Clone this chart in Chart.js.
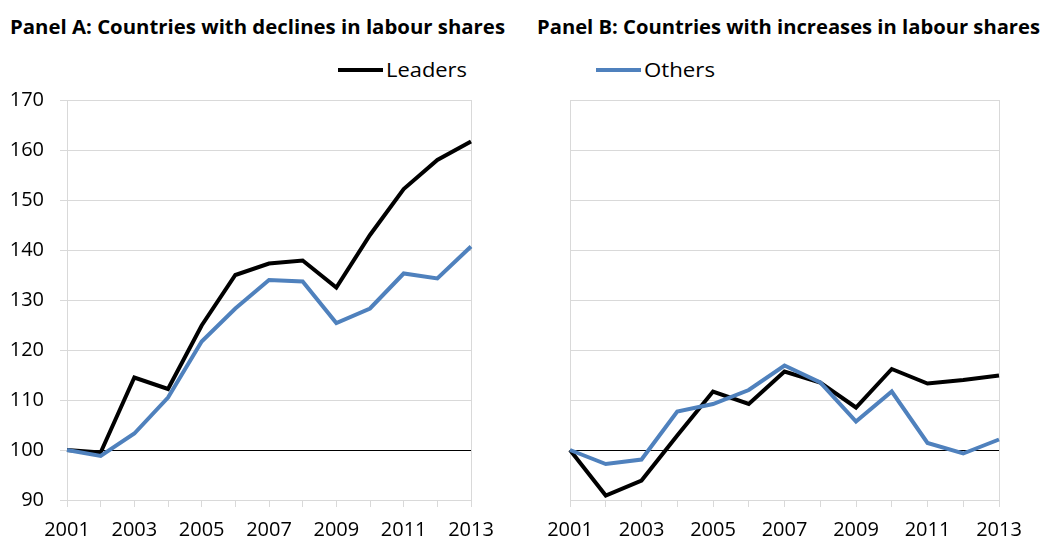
<!DOCTYPE html>
<html>
<head>
<meta charset="utf-8">
<script src="https://cdn.jsdelivr.net/npm/chart.js@4"></script>
<style>
  body { margin: 0; background: #fff; width: 1047px; height: 542px; overflow: hidden; position: relative; }
  .title { position: absolute; top: 14px; font-family: "Open Sans", sans-serif; font-weight: bold; font-size: 20px; line-height: 26px; color: #000; white-space: nowrap; transform-origin: 0 50%; }
  .leg { position: absolute; top: 57px; font-family: "Open Sans", sans-serif; font-size: 20px; line-height: 26px; color: #000; white-space: nowrap; display: flex; align-items: center; }
  .leg span.line { display: inline-block; width: 45px; height: 4px; margin-right: 3px; }
  .box { position: absolute; top: 72px; height: 470px; }
</style>
</head>
<body>
<div class="title" id="titleA" style="left:10px" data-w="495">Panel A: Countries with declines in labour shares</div>
<div class="title" id="titleB" style="left:537px" data-w="503">Panel B: Countries with increases in labour shares</div>
<div class="leg" style="left:338px"><span class="line" style="background:#000"></span><span class="txt" data-w="81">Leaders</span></div>
<div class="leg" style="left:596px"><span class="line" style="background:#4f81bd"></span><span class="txt" data-w="71">Others</span></div>
<div class="box" style="left:0;width:520px"><canvas id="chartA" width="520" height="470"></canvas></div>
<div class="box" style="left:530px;width:517px"><canvas id="chartB" width="517" height="470"></canvas></div>
<script>
// Years on the x axis
const years = ['2001', '2002', '2003', '2004', '2005', '2006', '2007', '2008', '2009', '2010', '2011', '2012', '2013'];

// Panel A: countries with declines in labour shares
const leadersA = [100, 99.5, 114.5, 112.2, 124.9, 135, 137.3, 137.9, 132.5, 143, 152.2, 158, 161.7];
const othersA = [100, 98.8, 103.3, 110.5, 121.7, 128.3, 134, 133.7, 125.4, 128.3, 135.3, 134.3, 140.7];

// Panel B: countries with increases in labour shares
const leadersB = [100, 90.9, 93.9, 102.9, 111.7, 109.2, 115.7, 113.5, 108.5, 116.2, 113.3, 114, 114.9];
const othersB = [100, 97.2, 98.1, 107.7, 109.2, 112, 116.9, 113.5, 105.7, 111.7, 101.4, 99.3, 102.1];

const yMin = 90;
const yMax = 170;
const yStep = 10;

const gridGray = '#d9d9d9';
const tickFont = { family: '"Open Sans", "DejaVu Sans", sans-serif', size: 20 };

// squeeze the titles / legend text to the widths of the original (narrow font there)
document.querySelectorAll('[data-w]').forEach((el) => {
  el.style.display = 'inline-block';
  el.style.transformOrigin = '0 50%';
  const w = el.getBoundingClientRect().width;
  const target = parseFloat(el.dataset.w);
  el.style.transform = `scaleX(${target / w})`;
});

function makeChart(id, leaders, others, showYLabels, yWidth, rightPad) {
  const ctx = document.getElementById(id).getContext('2d');
  return new Chart(ctx, {
    type: 'line',
    data: {
      labels: years,
      datasets: [
        {
          label: 'Others',
          data: others,
          borderColor: '#4f81bd',
          borderWidth: 4,
          pointRadius: 0,
          tension: 0,
          fill: false
        },
        {
          label: 'Leaders',
          data: leaders,
          borderColor: '#000000',
          borderWidth: 4,
          pointRadius: 0,
          tension: 0,
          fill: false
        }
      ]
    },
    options: {
      responsive: false,
      animation: false,
      layout: { padding: { top: 9, right: rightPad, left: 0, bottom: 0 } },
      plugins: {
        legend: { display: false },
        title: { display: false },
        tooltip: { enabled: false }
      },
      scales: {
        x: {
          offset: false,
          grid: {
            drawOnChartArea: true,
            color: (c) => (c.index === years.length - 1 ? gridGray : 'rgba(0,0,0,0)'),
            tickColor: gridGray,
            tickLength: 7,
            lineWidth: 1
          },
          border: { color: gridGray, width: 1 },
          ticks: {
            autoSkip: false,
            maxRotation: 0,
            color: '#000',
            font: tickFont,
            padding: 11,
            callback: (val, i) => (i % 2 === 0 ? years[i] : '')
          },
          afterFit: (scale) => { scale.height = 42; }
        },
        y: {
          min: yMin,
          max: yMax,
          grid: {
            color: (c) => (c.tick && c.tick.value === 100 ? '#000000' : gridGray),
            tickColor: showYLabels ? gridGray : 'rgba(0,0,0,0)',
            tickLength: 7,
            lineWidth: 1
          },
          border: { color: gridGray, width: 1 },
          ticks: {
            stepSize: yStep,
            display: true,
            color: showYLabels ? '#000' : 'rgba(0,0,0,0)',
            font: tickFont,
            padding: 16
          },
          afterFit: (scale) => { scale.width = yWidth; }
        }
      }
    }
  });
}

makeChart('chartA', leadersA, othersA, true, 67, 49);
makeChart('chartB', leadersB, othersB, false, 40, 48);
</script>
</body>
</html>
